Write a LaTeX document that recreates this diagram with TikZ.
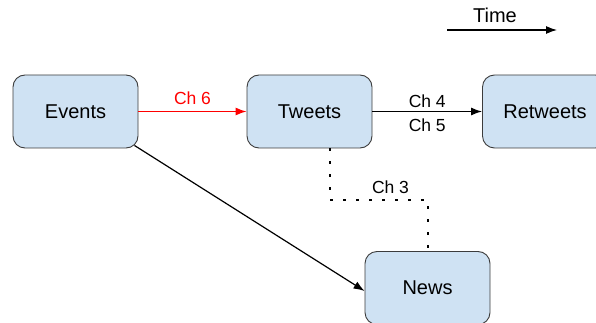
\documentclass[tikz,border=0pt]{standalone}
\usepackage{fontspec}
\setmainfont{Liberation Sans}
\usetikzlibrary{arrows.meta}
\definecolor{boxfill}{HTML}{CFE2F3}
\definecolor{boxline}{HTML}{3C3C3C}
\tikzset{
  stagebox/.style={draw=boxline, line width=0.9pt, fill=boxfill, rounded corners=12pt,
    minimum width=125pt, minimum height=73pt, inner sep=0pt, font=\fontsize{20}{22}\selectfont},
  flow/.style={line width=1.2pt, -{Latex[length=11pt,width=8pt]}},
  chlabel/.style={font=\fontsize{17.5}{19}\selectfont, inner sep=0pt},
  dotline/.style={line width=2.4pt, dash pattern=on 2.4pt off 10.6pt}
}
\begin{document}
\begin{tikzpicture}[x=1pt, y=-1pt]
  \useasboundingbox (0,0) rectangle (596,323);
  \clip (0,0) rectangle (596,323);

  % stages
  \node[stagebox] (events)   at (75.5,111.5) {Events};
  \node[stagebox] (tweets)   at (309.5,111.5) {Tweets};
  \node[stagebox] (retweets) at (545,111.5) {Retweets};
  \node[stagebox] (news)     at (427.5,288) {News};

  % time axis
  \coordinate (t0) at (447,30);
  \coordinate (t1) at (557,30);
  \draw[flow] (t0) -- (t1);
  \node[chlabel, font=\fontsize{20}{22}\selectfont] (time) at (495,15.5) {Time};

  % channels
  \draw[flow, red] (events.east) -- (tweets.west)
    node[chlabel, midway, above=6.5pt] (ch6) {Ch 6};
  \draw[flow] (tweets.east) -- (retweets.west)
    node[chlabel, midway, above=3.5pt] (ch4) {Ch 4}
    node[chlabel, midway, below=7pt] (ch5) {Ch 5};
  \draw[flow] (events.south east) ++(-4,-3) coordinate (ev) (ev) -- (news.west |- 0,291);

  % indirect channel
  \coordinate (d1) at (tweets.south -| 330,0);
  \coordinate (d2) at (330,200);
  \coordinate (d3) at (428,200);
  \draw[dotline] (d1) -- (d2) -- (d3) -- (news.north -| d3);
  \node[chlabel] (ch3) at (390.5,187) {Ch 3};
\end{tikzpicture}
\end{document}
